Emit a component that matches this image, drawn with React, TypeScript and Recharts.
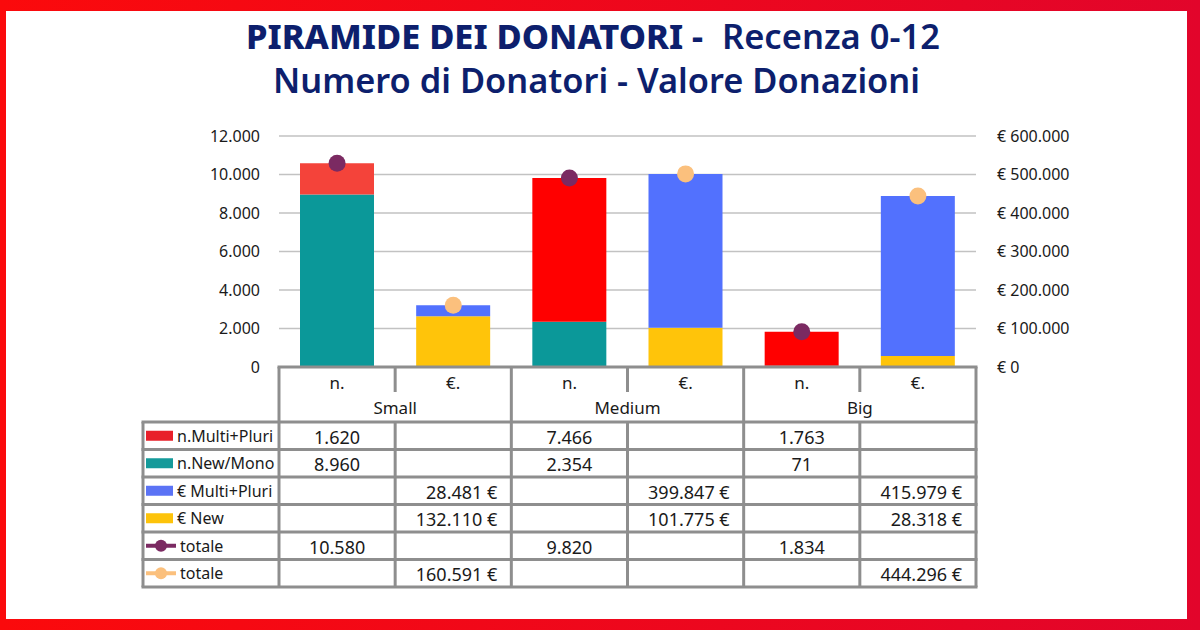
import { ComposedChart, Bar, Line, XAxis, YAxis, CartesianGrid, Cell } from 'recharts'

const categories = ['n.', '€.', 'n.', '€.', 'n.', '€.']
const groups = ['Small', 'Medium', 'Big']
const nMultiPluri = [1620, null, 7466, null, 1763, null]
const nNewMono = [8960, null, 2354, null, 71, null]
const eMultiPluri = [null, 28481, null, 399847, null, 415979]
const eNew = [null, 132110, null, 101775, null, 28318]
const totaleN = [10580, null, 9820, null, 1834, null]
const totaleE = [null, 160591, null, 501622, null, 444296]
// the table leaves the medium € total blank
const totaleETable = [null, 160591, null, null, null, 444296]
const leftTicks = [0, 2000, 4000, 6000, 8000, 10000, 12000]
const rightTicks = [0, 100000, 200000, 300000, 400000, 500000, 600000]

const FONT = '"Noto Sans", sans-serif'
const NAVY = '#0d1f6d'
const GRID_GRAY = '#8e8e8e'

const fmt = (v: number) => String(v).replace(/\B(?=(\d{3})+(?!\d))/g, '.')

const data = categories.map((c, i) => ({
  key: `${groups[Math.floor(i / 2)]} ${c}`,
  nMultiPluri: nMultiPluri[i],
  nNewMono: nNewMono[i],
  eMultiPluri: eMultiPluri[i],
  eNew: eNew[i],
  totaleN: totaleN[i],
  totaleE: totaleE[i],
}))

const tableRows = [
  { label: 'n.Multi+Pluri', values: nMultiPluri, color: '#e8202a', marker: 'bar', euro: false },
  { label: 'n.New/Mono', values: nNewMono, color: '#159a9a', marker: 'bar', euro: false },
  { label: '€ Multi+Pluri', values: eMultiPluri, color: '#5b73f5', marker: 'bar', euro: true },
  { label: '€ New', values: eNew, color: '#fdc30a', marker: 'bar', euro: true },
  { label: 'totale', values: totaleN, color: '#7b2a62', marker: 'line', euro: false },
  { label: 'totale', values: totaleETable, color: '#fbc07d', marker: 'line', euro: true },
]

// plot area
const PLOT_L = 279
const PLOT_R = 976
const PLOT_T = 136
const PLOT_B = 367
const band = (PLOT_R - PLOT_L) / categories.length
const edges = categories.map((_, i) => PLOT_L + i * band).concat(PLOT_R)
const TABLE_L = 143
const TABLE_T = 422
const ROW_H = 27.5

function Frame() {
  return (
    <svg width={1200} height={630} style={{ position: 'absolute', left: 0, top: 0 }}>
      <defs>
        <linearGradient id="frame" x1="0" y1="0" x2="1" y2="0">
          <stop offset="0" stopColor="#fb0a0c" />
          <stop offset="1" stopColor="#e2052b" />
        </linearGradient>
      </defs>
      <rect x={0} y={0} width={1200} height={630} fill="url(#frame)" />
      <rect x={6} y={11} width={1181} height={608} fill="#ffffff" />
    </svg>
  )
}

function Overlay() {
  const lines = []
  // header (category axis) box
  lines.push(<line key="axis" x1={PLOT_L - 1.5} x2={PLOT_R + 1.5} y1={PLOT_B} y2={PLOT_B} />)
  edges.forEach((x, i) => {
    const full = i % 2 === 0
    lines.push(<line key={`hv${i}`} x1={x} x2={x} y1={PLOT_B} y2={full ? TABLE_T : 392} />)
  })
  // table grid
  for (let r = 0; r <= tableRows.length; r++) {
    const y = TABLE_T + r * ROW_H
    lines.push(<line key={`tr${r}`} x1={TABLE_L - 1.5} x2={PLOT_R + 1.5} y1={y} y2={y} />)
  }
  ;[TABLE_L, ...edges].forEach((x, i) => {
    lines.push(<line key={`tv${i}`} x1={x} x2={x} y1={TABLE_T} y2={TABLE_T + tableRows.length * ROW_H} />)
  })

  return (
    <svg width={1200} height={630} style={{ position: 'absolute', left: 0, top: 0 }}>
      <g fill={NAVY} fontFamily={FONT}>
        <text x={246} y={49} fontSize={34} fontWeight={800} textLength={457} lengthAdjust="spacingAndGlyphs">
          PIRAMIDE DEI DONATORI -
        </text>
        <text x={722} y={49} fontSize={34} fontWeight={600} textLength={218} lengthAdjust="spacingAndGlyphs">
          Recenza 0-12
        </text>
        <text x={273} y={93} fontSize={35} fontWeight={600} textLength={647} lengthAdjust="spacingAndGlyphs">
          Numero di Donatori - Valore Donazioni
        </text>
      </g>

      <g stroke={GRID_GRAY} strokeWidth={3}>{lines}</g>

      <g fontFamily={FONT} fill="#1a1a1a">
        {categories.map((c, i) => (
          <text key={`c${i}`} x={edges[i] + band / 2} y={382} fontSize={17} textAnchor="middle" dominantBaseline="central">
            {c}
          </text>
        ))}
        {groups.map((g, i) => (
          <text key={`g${i}`} x={edges[i * 2 + 1]} y={407} fontSize={17} textAnchor="middle" dominantBaseline="central">
            {g}
          </text>
        ))}
        {tableRows.map((row, r) => {
          const cy = TABLE_T + r * ROW_H + ROW_H / 2
          return (
            <g key={`row${r}`}>
              {row.marker === 'bar' ? (
                <rect x={146} y={cy - 5} width={27} height={10} fill={row.color} />
              ) : (
                <g>
                  <line x1={146} x2={176} y1={cy} y2={cy} stroke={row.color} strokeWidth={4} />
                  <circle cx={161} cy={cy} r={6} fill={row.color} />
                </g>
              )}
              <text x={row.marker === 'bar' ? 177 : 180} y={cy} fontSize={16} dominantBaseline="central">
                {row.label}
              </text>
              {row.values.map((v, i) =>
                v == null ? null : row.euro ? (
                  <text key={i} x={edges[i + 1] - 14} y={cy + 1} fontSize={18} textAnchor="end" dominantBaseline="central">
                    {`${fmt(v)} €`}
                  </text>
                ) : (
                  <text key={i} x={edges[i] + band / 2} y={cy + 1} fontSize={18} textAnchor="middle" dominantBaseline="central">
                    {fmt(v)}
                  </text>
                )
              )}
            </g>
          )
        })}
      </g>
    </svg>
  )
}

export default function App() {
  return (
    <div style={{ position: 'absolute', left: 0, top: 0, width: 1200, height: 630, overflow: 'hidden' }}>
      <Frame />
      <div style={{ position: 'absolute', left: 0, top: 0 }}>
        <ComposedChart
          width={1200}
          height={630}
          data={data}
          margin={{ top: PLOT_T, bottom: 630 - PLOT_B, left: PLOT_L - 80, right: 1200 - PLOT_R - 100 }}
        >
          <CartesianGrid yAxisId="left" vertical={false} stroke="#c2c2c2" strokeWidth={1.5} />
          <XAxis dataKey="key" hide />
          <YAxis
            yAxisId="left"
            orientation="left"
            width={80}
            domain={[0, 12000]}
            ticks={leftTicks}
            tickFormatter={fmt}
            axisLine={false}
            tickLine={false}
            tickSize={6}
            tickMargin={13}
            tick={{ fill: '#1a1a1a', fontSize: 16, fontFamily: FONT }}
          />
          <YAxis
            yAxisId="right"
            orientation="right"
            width={100}
            domain={[0, 600000]}
            ticks={rightTicks}
            tickFormatter={(v: number) => `€ ${fmt(v)}`}
            axisLine={false}
            tickLine={false}
            tickSize={6}
            tickMargin={15}
            tick={{ fill: '#1a1a1a', fontSize: 16, fontFamily: FONT, textAnchor: 'start' }}
          />
          <Bar yAxisId="left" dataKey="nNewMono" stackId="s" fill="#0b9899" barSize={74} isAnimationActive={false} />
          <Bar yAxisId="left" dataKey="nMultiPluri" stackId="s" fill="#ff0000" barSize={74} isAnimationActive={false}>
            {data.map((_, i) => (
              <Cell key={i} fill={i === 0 ? '#f4433a' : '#ff0000'} />
            ))}
          </Bar>
          <Bar yAxisId="right" dataKey="eNew" stackId="s" fill="#ffc40a" barSize={74} isAnimationActive={false} />
          <Bar yAxisId="right" dataKey="eMultiPluri" stackId="s" fill="#5271fe" barSize={74} isAnimationActive={false} />
          <Line
            yAxisId="left"
            dataKey="totaleN"
            stroke="none"
            dot={{ r: 8.5, fill: '#7b2a62', stroke: 'none' }}
            activeDot={false}
            isAnimationActive={false}
          />
          <Line
            yAxisId="right"
            dataKey="totaleE"
            stroke="none"
            dot={{ r: 8.5, fill: '#fbc07d', stroke: 'none' }}
            activeDot={false}
            isAnimationActive={false}
          />
        </ComposedChart>
      </div>
      <Overlay />
    </div>
  )
}
